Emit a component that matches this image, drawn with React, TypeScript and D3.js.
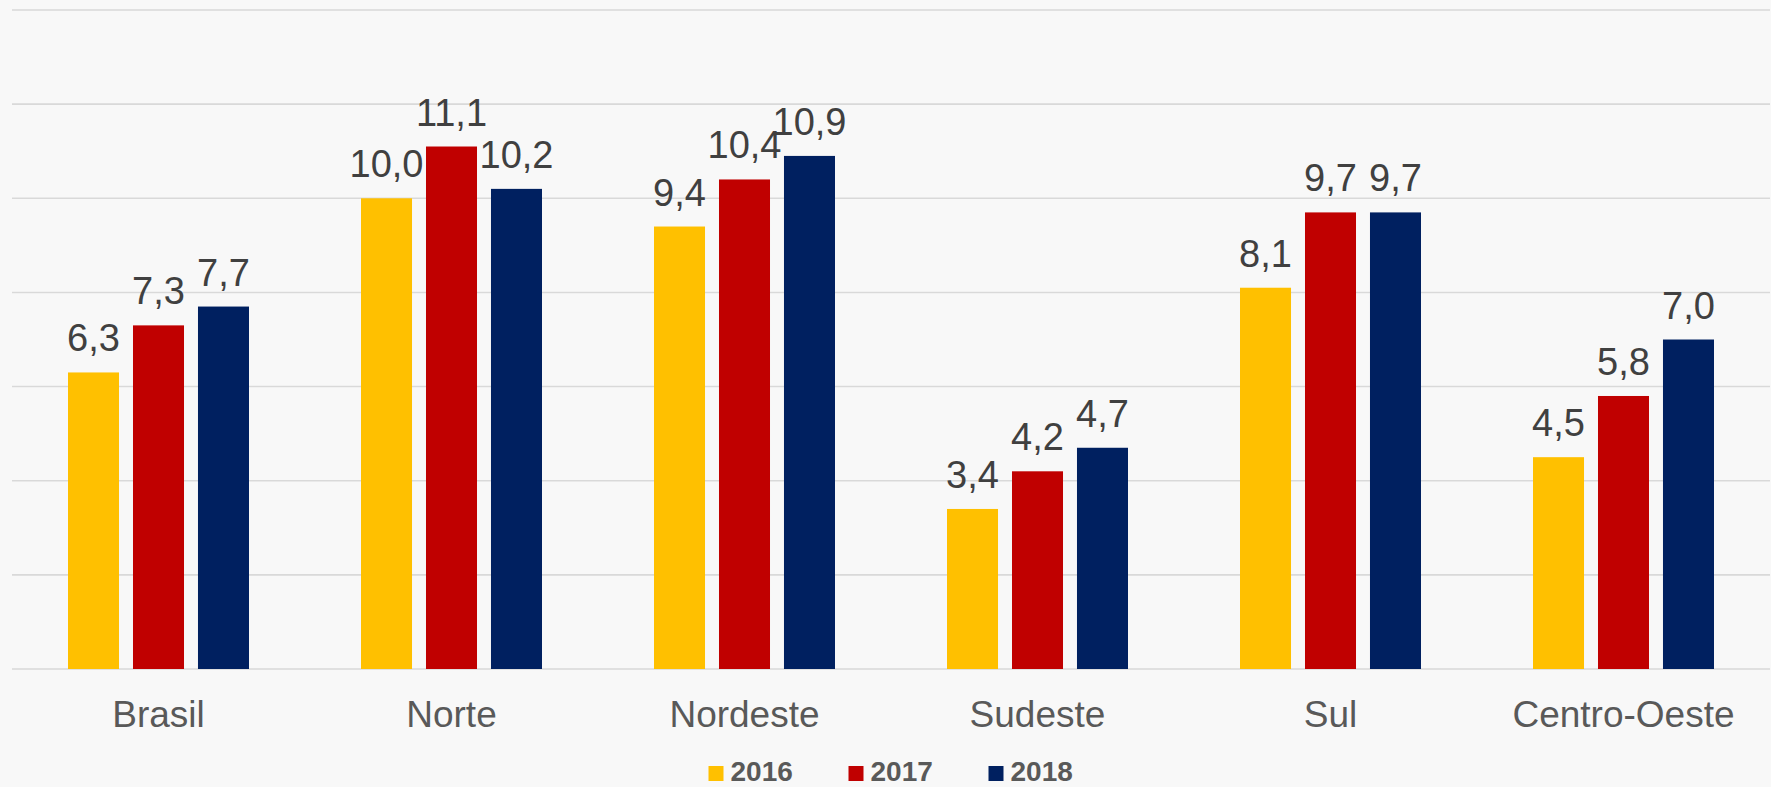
import React from "react";
import * as d3 from "d3";

const categories = ["Brasil", "Norte", "Nordeste", "Sudeste", "Sul", "Centro-Oeste"];
const seriesNames = ["2016", "2017", "2018"];
const values2016 = [6.3, 10.0, 9.4, 3.4, 8.1, 4.5];
const values2017 = [7.3, 11.1, 10.4, 4.2, 9.7, 5.8];
const values2018 = [7.7, 10.2, 10.9, 4.7, 9.7, 7.0];
const seriesColors = ["#FFC000", "#C00000", "#002060"];
const yTicks = [0, 2, 4, 6, 8, 10, 12, 14];

const W = 1771;
const H = 787;
const FONT = "'Liberation Sans', Arial, Helvetica, sans-serif";

export default function App() {
  const series = [values2016, values2017, values2018];
  const plotLeft = 12;
  const plotRight = 1770;
  const x0 = d3.scaleBand<string>().domain(categories).range([plotLeft, plotRight]).padding(0);
  const outer = 56;
  const x1 = d3
    .scaleBand<string>()
    .domain(seriesNames)
    .range([outer, x0.bandwidth() - outer])
    .paddingInner(0.215)
    .paddingOuter(0);
  const y = d3.scaleLinear().domain([0, 14]).range([669, 10]);
  const locale = d3.formatLocale({ decimal: ",", thousands: ".", grouping: [3], currency: ["R$", ""] });
  const fmt = locale.format(".1f");

  const legendStep = 140;
  const legendTextOffset = 22;
  const legendTotal = legendStep * (seriesNames.length - 1) + legendTextOffset + 63;
  const legendStart = (plotLeft + plotRight) / 2 - legendTotal / 2;

  return (
    <svg
      width={W}
      height={H}
      style={{ position: "absolute", left: 0, top: 0, display: "block" }}
      fontFamily={FONT}
    >
      <rect x={0} y={0} width={W} height={H} fill="#f8f8f8" />
      {yTicks.map((t) => (
        <line
          key={t}
          x1={plotLeft}
          x2={plotRight}
          y1={y(t)}
          y2={y(t)}
          stroke="#d9d9d9"
          strokeWidth={1.6}
        />
      ))}
      {categories.map((c, i) => (
        <g key={c} transform={`translate(${x0(c)},0)`}>
          {seriesNames.map((s, j) => {
            const v = series[j][i];
            const bx = x1(s)!;
            return (
              <g key={s}>
                <rect x={bx} y={y(v)} width={x1.bandwidth()} height={y(0) - y(v)} fill={seriesColors[j]} />
                <text
                  x={bx + x1.bandwidth() / 2}
                  y={y(v) - 21}
                  textAnchor="middle"
                  fontSize={38}
                  fill="#404040"
                >
                  {fmt(v)}
                </text>
              </g>
            );
          })}
          <text x={x0.bandwidth() / 2} y={727} textAnchor="middle" fontSize={37} fill="#595959">
            {c}
          </text>
        </g>
      ))}
      {seriesNames.map((s, j) => {
        const lx = legendStart + j * legendStep;
        return (
          <g key={s}>
            <rect x={lx} y={766} width={15} height={15} fill={seriesColors[j]} />
            <text x={lx + legendTextOffset} y={781} fontSize={28} fontWeight="bold" fill="#595959">
              {s}
            </text>
          </g>
        );
      })}
    </svg>
  );
}
